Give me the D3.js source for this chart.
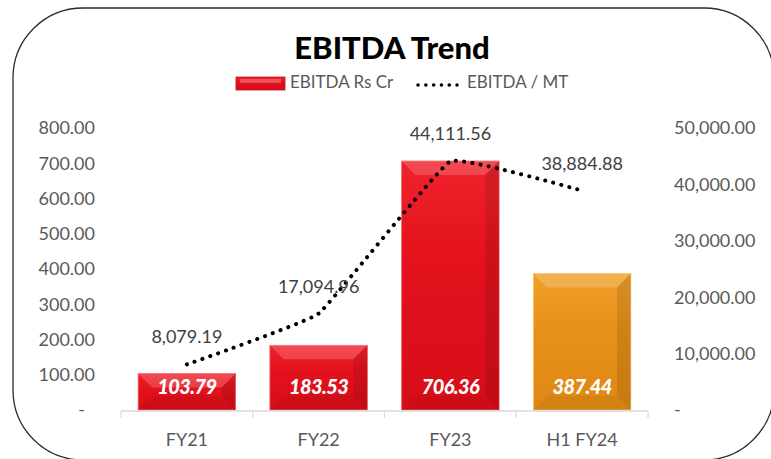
<!DOCTYPE html>
<html>
<head>
<meta charset="utf-8">
<script src="https://cdn.jsdelivr.net/npm/d3@7"></script>
<style>
  body { margin: 0; background: #fff; }
  text { font-family: Lato, "Open Sans", sans-serif; }
</style>
</head>
<body>
<div id="chart"></div>
<script>
// chart data
var categories = ["FY21", "FY22", "FY23", "H1 FY24"];
var ebitdaCr = [103.79, 183.53, 706.36, 387.44];
var ebitdaPerMT = [8079.19, 17094.96, 44111.56, 38884.88];
var leftTicks = [0, 100, 200, 300, 400, 500, 600, 700, 800];
var rightTicks = [0, 10000, 20000, 30000, 40000, 50000];

var width = 771, height = 459;
var plot = {left: 121, right: 648, top: 128, bottom: 411};

var svg = d3.select("#chart").append("svg")
    .attr("width", width)
    .attr("height", height);

var defs = svg.append("defs");
// gradients for the bevelled bars
function barGrad(id, light, mid, dark) {
    var g = defs.append("linearGradient").attr("id", id)
        .attr("x1", 0).attr("y1", 0).attr("x2", 0).attr("y2", 1);
    g.append("stop").attr("offset", "0%").attr("stop-color", light);
    g.append("stop").attr("offset", "40%").attr("stop-color", mid);
    g.append("stop").attr("offset", "100%").attr("stop-color", dark);
}
barGrad("redGrad", "#f0222c", "#e3121d", "#d60d18");
barGrad("orangeGrad", "#f0a02a", "#e8911a", "#de8814");

// outer rounded frame
svg.append("rect")
    .attr("x", 13).attr("y", 8)
    .attr("width", 761).attr("height", 452)
    .attr("rx", 70).attr("ry", 70)
    .attr("fill", "none")
    .attr("stroke", "#2b2b2b")
    .attr("stroke-width", 1.3);

var x = d3.scaleBand()
    .domain(categories)
    .range([plot.left, plot.right])
    .paddingInner(0.26)
    .paddingOuter(0.13);

var yLeft = d3.scaleLinear().domain([0, 800]).range([plot.bottom - 1, plot.top]);
var yRight = d3.scaleLinear().domain([0, 50000]).range([plot.bottom - 1, plot.top]);

var fmt2 = d3.format(",.2f");
function acct(v) { return v === 0 ? "-" : fmt2(v); }

// left axis labels
svg.append("g").selectAll("text")
    .data(leftTicks).enter().append("text")
    .attr("x", function(d) { return d === 0 ? 85 : 95; })
    .attr("y", function(d) { return yLeft(d); })
    .attr("dy", "0.35em")
    .attr("text-anchor", "end")
    .attr("fill", "#595959")
    .style("font-size", "18px")
    .text(acct);

// right axis labels
svg.append("g").selectAll("text")
    .data(rightTicks).enter().append("text")
    .attr("x", 674)
    .attr("y", function(d) { return yRight(d); })
    .attr("dy", "0.35em")
    .attr("text-anchor", "start")
    .attr("fill", "#595959")
    .style("font-size", "18px")
    .text(acct);

// bars
var bars = svg.append("g").selectAll("g")
    .data(categories).enter().append("g");

bars.each(function(c, i) {
    var g = d3.select(this);
    var x0 = x(c), w = x.bandwidth();
    var y0 = yLeft(ebitdaCr[i]), y1 = yLeft(0);
    var isLast = i === categories.length - 1;
    g.append("rect")
        .attr("x", x0).attr("y", y0)
        .attr("width", w).attr("height", y1 - y0)
        .attr("fill", isLast ? "url(#orangeGrad)" : "url(#redGrad)")
        .attr("stroke", isLast ? "#f2c27a" : "#f06a70")
        .attr("stroke-width", 0.8);
    var b = Math.min(14, (y1 - y0) / 2);
    // bevel: lighter top, darker right side
    g.append("path")
        .attr("d", "M" + x0 + "," + y0 + "L" + (x0 + w) + "," + y0 +
              "L" + (x0 + w - b) + "," + (y0 + b) + "L" + (x0 + b) + "," + (y0 + b) + "Z")
        .attr("fill", "#ffffff").attr("opacity", 0.18);
    g.append("path")
        .attr("d", "M" + (x0 + w) + "," + y0 + "L" + (x0 + w) + "," + y1 +
              "L" + (x0 + w - b) + "," + (y1 - b) + "L" + (x0 + w - b) + "," + (y0 + b) + "Z")
        .attr("fill", "#000000").attr("opacity", 0.1);
    g.append("path")
        .attr("d", "M" + x0 + "," + y1 + "L" + (x0 + w) + "," + y1 +
              "L" + (x0 + w - b) + "," + (y1 - b) + "L" + (x0 + b) + "," + (y1 - b) + "Z")
        .attr("fill", "#000000").attr("opacity", 0.05);
    // value label inside base
    g.append("text")
        .attr("x", x0 + w / 2)
        .attr("y", y1 - 16)
        .attr("text-anchor", "middle")
        .attr("fill", "#ffffff")
        .style("font-size", "20px")
        .style("font-weight", "900")
        .style("font-style", "italic")
        .style("letter-spacing", "-0.6px")
        .text(fmt2(ebitdaCr[i]));
});

// category axis
svg.append("line")
    .attr("x1", plot.left).attr("x2", plot.right)
    .attr("y1", plot.bottom).attr("y2", plot.bottom)
    .attr("stroke", "#d9d9d9").attr("stroke-width", 1.5);

var boundaries = categories.map(function(c) { return x(c) - x.step() * x.paddingInner() / 2; });
boundaries.push(plot.right);
svg.append("g").selectAll("line")
    .data(boundaries).enter().append("line")
    .attr("x1", function(d) { return d; }).attr("x2", function(d) { return d; })
    .attr("y1", plot.bottom).attr("y2", plot.bottom + 7)
    .attr("stroke", "#d9d9d9").attr("stroke-width", 1.2);

svg.append("g").selectAll("text")
    .data(categories).enter().append("text")
    .attr("x", function(d) { return x(d) + x.bandwidth() / 2; })
    .attr("y", 446)
    .attr("text-anchor", "middle")
    .attr("fill", "#595959")
    .style("font-size", "18px")
    .text(function(d) { return d; });

// EBITDA / MT line (lightly smoothed, dotted)
var line = d3.line()
    .x(function(d, i) { return x(categories[i]) + x.bandwidth() / 2; })
    .y(function(d) { return yRight(d); })
    .curve(d3.curveCardinal.tension(0.75));

svg.append("path")
    .datum(ebitdaPerMT)
    .attr("d", line)
    .attr("fill", "none")
    .attr("stroke", "#000")
    .attr("stroke-width", 4)
    .attr("stroke-linecap", "round")
    .attr("stroke-dasharray", "0.1 8.2");

svg.append("g").selectAll("text")
    .data(ebitdaPerMT).enter().append("text")
    .attr("x", function(d, i) { return x(categories[i]) + x.bandwidth() / 2; })
    .attr("y", function(d) { return yRight(d) - 21; })
    .attr("text-anchor", "middle")
    .attr("fill", "#404040")
    .style("font-size", "18px")
    .text(function(d) { return fmt2(d); });

// title
svg.append("text")
    .attr("x", 392).attr("y", 59)
    .attr("text-anchor", "middle")
    .attr("fill", "#000")
    .style("font-size", "31px")
    .style("font-weight", "900")
    .text("EBITDA Trend");

// legend
var legend = svg.append("g");
legend.append("rect")
    .attr("x", 236).attr("y", 77)
    .attr("width", 49).attr("height", 13)
    .attr("fill", "url(#redGrad)")
    .attr("stroke", "#c00d16").attr("stroke-width", 0.8);
legend.append("rect")
    .attr("x", 240).attr("y", 79)
    .attr("width", 41).attr("height", 4)
    .attr("fill", "#fff").attr("opacity", 0.25);
legend.append("text")
    .attr("x", 290).attr("y", 88)
    .attr("fill", "#595959")
    .style("font-size", "17px")
    .text("EBITDA Rs Cr");
legend.append("line")
    .attr("x1", 418).attr("x2", 457)
    .attr("y1", 85).attr("y2", 85)
    .attr("stroke", "#000")
    .attr("stroke-width", 3.5)
    .attr("stroke-linecap", "round")
    .attr("stroke-dasharray", "0.1 7.7");
legend.append("text")
    .attr("x", 467).attr("y", 88)
    .attr("fill", "#595959")
    .style("font-size", "17px")
    .text("EBITDA / MT");
</script>
</body>
</html>
